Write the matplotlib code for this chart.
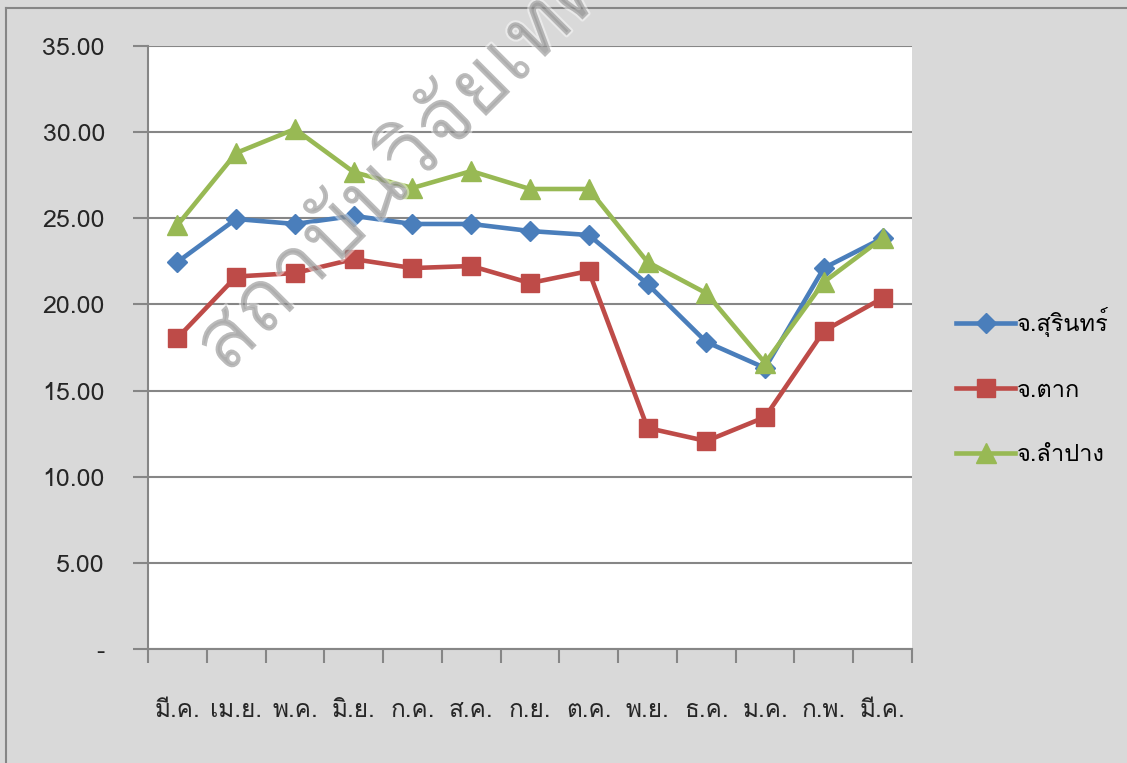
import matplotlib
matplotlib.use("Agg")
import matplotlib.pyplot as plt
import matplotlib.patheffects as pe
from matplotlib import font_manager
from matplotlib.ft2font import FT2Font
import numpy as np

months = ["มี.ค.", "เม.ย.", "พ.ค.", "มิ.ย.", "ก.ค.", "ส.ค.", "ก.ย.",
          "ต.ค.", "พ.ย.", "ธ.ค.", "ม.ค.", "ก.พ.", "มี.ค."]
surin = [22.46, 24.96, 24.67, 25.14, 24.67, 24.67, 24.26, 24.03, 21.18, 17.82, 16.31, 22.11, 23.85]
tak = [18.05, 21.62, 21.82, 22.63, 22.11, 22.23, 21.24, 21.94, 12.83, 12.07, 13.46, 18.46, 20.37]
lampang = [24.60, 28.79, 30.18, 27.68, 26.76, 27.74, 26.70, 26.70, 22.46, 20.65, 16.60, 21.30, 23.85]
series_names = ["จ.สุรินทร์", "จ.ตาก", "จ.ลำปาง"]
yticks = [0, 5, 10, 15, 20, 25, 30, 35]

# หา font ที่มีอักษรไทย
thai_font = None
for f in font_manager.fontManager.ttflist:
    try:
        if FT2Font(f.fname).get_char_index(ord("ก")):
            thai_font = f.name
            break
    except Exception:
        pass
fams = [thai_font, "DejaVu Sans"] if thai_font else ["DejaVu Sans"]
plt.rcParams["font.family"] = fams

bg = "#d9d9d9"
grid_c = "#868686"

fig = plt.figure(figsize=(11.27, 7.63), dpi=100, facecolor=bg)
# กรอบนอก
fig.add_artist(plt.Line2D([6 / 1127, 6 / 1127], [0, 1 - 8 / 763], transform=fig.transFigure, color=grid_c, lw=1.5))
fig.add_artist(plt.Line2D([6 / 1127, 1], [1 - 8 / 763, 1 - 8 / 763], transform=fig.transFigure, color=grid_c, lw=1.5))

ax = fig.add_axes([148 / 1127, 1 - 649 / 763, 764 / 1127, 603 / 763])
ax.set_facecolor("white")

x = np.arange(len(months))
ax.plot(x, surin, color="#4a7ebb", lw=3.3, marker="D", ms=10, label=series_names[0], zorder=3)
ax.plot(x, tak, color="#be4b48", lw=3.3, marker="s", ms=13.5, label=series_names[1], zorder=3)
ax.plot(x, lampang, color="#98b954", lw=3.3, marker="^", ms=15, label=series_names[2], zorder=4)

ax.set_xlim(-0.5, len(months) - 0.5)
ax.set_ylim(0, 35)
ax.set_yticks(yticks)
ax.set_yticklabels(["-" if v == 0 else f"{v:.2f}" for v in yticks], fontsize=18, color="#262626")
ax.yaxis.grid(True, color=grid_c, lw=1.5)
ax.set_axisbelow(True)

ax.set_xticks(np.arange(-0.5, len(months)), minor=False)
ax.set_xticklabels([])
ax.set_xticks(x, minor=True)
ax.set_xticklabels(months, minor=True, fontsize=17.5, color="#262626")
ax.tick_params(axis="x", which="major", length=10, width=1.5, color=grid_c, direction="out")
ax.tick_params(axis="x", which="minor", length=0, pad=36)
ax.tick_params(axis="y", length=11, width=1.5, color=grid_c, pad=20)

for s in ["top", "right"]:
    ax.spines[s].set_visible(False)
for s in ["left", "bottom"]:
    ax.spines[s].set_color(grid_c)
    ax.spines[s].set_linewidth(1.5)

leg = ax.legend(loc="center left", bbox_to_anchor=(1.03, 0.435), frameon=False,
                fontsize=17, handlelength=2.5, handletextpad=0.05, labelspacing=1.75)

# ลายน้ำ
fig.text(226 / 1127, 1 - 376 / 763, "สถาบันวิจัยเทคโนโลยี", fontsize=61,
         rotation=45, rotation_mode="anchor", ha="left", va="baseline", color="#8c8c8c", alpha=0.45,
         path_effects=[pe.withStroke(linewidth=3, foreground="white")], zorder=10)

fig.savefig("out.png", dpi=100, facecolor=bg)
